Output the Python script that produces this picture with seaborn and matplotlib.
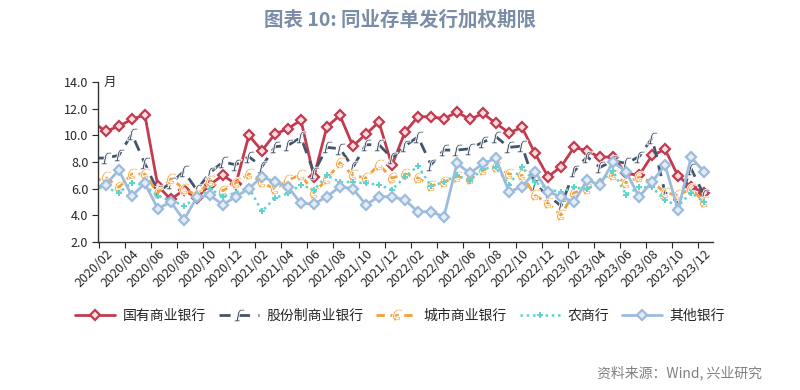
import numpy as np
import matplotlib
matplotlib.use('Agg')
import matplotlib.pyplot as plt
import seaborn as sns

# months 2020/01 .. 2023/12
months = [f"{y}/{m:02d}" for y in range(2020, 2024) for m in range(1, 13)]

big_state = [11.0, 10.3, 10.7, 11.2, 11.55, 6.2, 5.2, 5.9, 5.3, 6.3, 7.0, 6.35,
             10.0, 8.85, 10.1, 10.5, 11.15, 6.9, 10.65, 11.5, 9.2, 10.1, 11.0, 7.75,
             10.25, 11.4, 11.4, 11.25, 11.75, 11.2, 11.65, 10.9, 10.2, 10.6, 8.65, 6.9,
             7.65, 9.1, 8.85, 8.35, 8.4, 7.15, 7.0, 8.5, 8.95, 6.95, 6.15, 5.7]
joint_stock = [8.3, 8.3, 8.5, 10.1, 7.9, 5.8, 6.4, 7.3, 5.9, 7.2, 8.0, 7.8,
               8.4, 7.65, 9.15, 9.25, 9.85, 7.2, 9.1, 9.0, 7.6, 9.3, 9.3, 8.3,
               9.2, 9.9, 7.8, 8.9, 8.9, 9.0, 9.5, 9.9, 9.1, 9.2, 6.3, 5.5,
               4.7, 7.3, 8.4, 7.6, 8.1, 7.9, 8.4, 9.8, 5.7, 5.0, 7.5, 5.5]
city = [6.5, 6.85, 6.1, 7.1, 7.1, 5.7, 6.75, 6.0, 5.5, 6.55, 5.85, 6.45,
        7.1, 6.5, 5.95, 6.65, 7.05, 5.7, 6.7, 7.95, 7.0, 6.8, 7.8, 6.8,
        7.1, 6.8, 6.2, 6.5, 6.9, 6.7, 7.4, 7.65, 7.1, 7.0, 5.5, 4.9,
        4.0, 5.7, 6.0, 6.45, 7.0, 6.45, 6.85, 6.5, 5.7, 5.5, 6.0, 5.0]
rural = [6.0, 6.1, 5.7, 6.45, 6.25, 5.45, 5.15, 4.7, 5.3, 6.0, 5.4, 5.7,
         6.1, 4.3, 5.3, 5.65, 6.3, 5.9, 7.0, 6.5, 6.5, 6.4, 6.3, 5.9,
         6.9, 7.7, 6.2, 6.5, 7.0, 6.6, 7.5, 7.6, 6.3, 7.6, 6.5, 5.95,
         5.75, 6.1, 5.95, 6.55, 7.3, 5.55, 6.1, 6.1, 5.15, 4.7, 5.7, 5.0]
others = [6.0, 6.3, 7.4, 5.45, 6.4, 4.5, 5.0, 3.65, 5.35, 5.5, 4.8, 5.4,
          6.0, 6.9, 6.5, 6.15, 4.9, 4.85, 5.4, 6.15, 6.0, 4.8, 5.4, 5.4,
          5.15, 4.27, 4.27, 3.9, 7.9, 7.15, 7.9, 8.27, 5.77, 6.15, 7.27, 5.77,
          5.4, 5.0, 6.65, 6.27, 8.0, 7.27, 5.4, 6.5, 7.77, 4.4, 8.35, 7.27]

names = ['国有商业银行', '股份制商业银行', '城市商业银行', '农商行', '其他银行']
series = [big_state, joint_stock, city, rural, others]
styles = [
    dict(color='#c23b4e', linestyle='-', linewidth=2, marker='D', markersize=5.5,
         markerfacecolor='#f6dde1', markeredgecolor='#c23b4e', markeredgewidth=1.6),
    dict(color='#44546a', linestyle=(0, (4, 3)), linewidth=2, marker='$ɾ$', markersize=9,
         markeredgewidth=0.6),
    dict(color='#f2a23a', linestyle=(0, (3, 2)), linewidth=2, marker='$ɕ$', markersize=9,
         markeredgewidth=0.6),
    dict(color='#5ed4cf', linestyle=(0, (1, 1.5)), linewidth=1.8, marker='P', markersize=4.5,
         markeredgewidth=0),
    dict(color='#9dbcdc', linestyle='-', linewidth=2, marker='D', markersize=5.5,
         markerfacecolor='#e3edf7', markeredgecolor='#9dbcdc', markeredgewidth=1.6),
]

sns.set_style('white')
plt.rcParams['font.family'] = ['Noto Sans CJK SC', 'DejaVu Sans']
plt.rcParams['axes.unicode_minus'] = False

fig = plt.figure(figsize=(8, 3.9), dpi=100)
ax = fig.add_axes([0.1225, 0.3795, 0.769, 0.41])

x = np.arange(len(months))
for name, vals, st in zip(names, series, styles):
    sns.lineplot(x=x, y=vals, ax=ax, label=name, **st)

ax.set_xlim(0.4, 47.7)
ax.set_ylim(2, 14)
ax.set_yticks(np.arange(2, 15, 2))
ax.set_yticklabels([f"{v:.1f}" for v in np.arange(2, 15, 2)], fontsize=9)
ax.set_xticks(x[1::2])
ax.set_xticklabels(months[1::2], rotation=45, ha='right', va='top',
                   rotation_mode='anchor', fontsize=9)
ax.set_xticks(np.arange(0.5, 47, 2), minor=True)
ax.tick_params(axis='x', which='major', length=0, pad=4)
ax.tick_params(axis='x', which='minor', length=4, width=0.8, direction='out', bottom=True)
ax.tick_params(axis='y', length=4, width=0.8, direction='out', left=True, pad=3)
ax.set_xlabel('')
ax.set_ylabel('')
for s in ['top', 'right']:
    ax.spines[s].set_visible(False)
for s in ['left', 'bottom']:
    ax.spines[s].set_color('#333333')
    ax.spines[s].set_linewidth(1.0)

ax.text(1.3, 14, '月', ha='center', va='center', fontsize=9)

handles, labels = ax.get_legend_handles_labels()
ax.get_legend().remove()
fig.legend(handles, labels, loc='center', bbox_to_anchor=(0.5, 0.19), ncol=5,
           frameon=False, fontsize=10, handlelength=2.9, handletextpad=0.5,
           columnspacing=0.95)

fig.text(0.5, 0.949, '图表 10: 同业存单发行加权期限', ha='center', va='center',
         fontsize=14, fontweight='bold', color='#7b8ca6')
fig.text(0.9525, 0.0436, '资料来源：Wind, 兴业研究', ha='right', va='center',
         fontsize=10, color='#808080')

fig.savefig('out.png', dpi=100)
